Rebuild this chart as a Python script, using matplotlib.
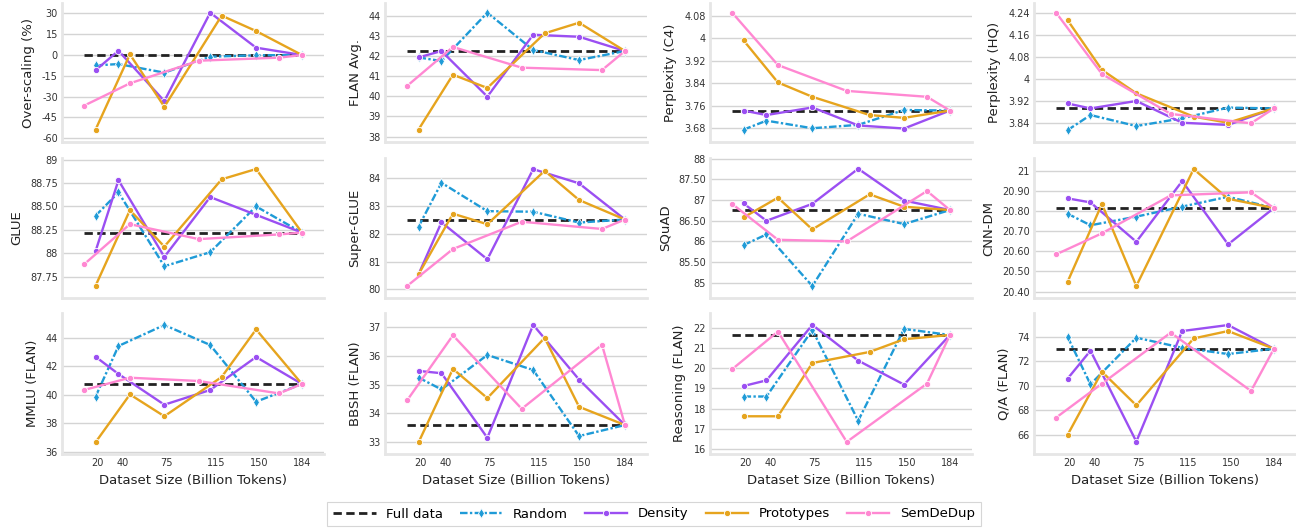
import matplotlib
matplotlib.use("Agg")
import matplotlib.pyplot as plt
from matplotlib.ticker import FuncFormatter
from matplotlib.lines import Line2D

# ---------------- data ----------------
X_TICKS = [20, 40, 75, 115, 150, 184]
X_TICK_LABELS = ["20", "40", "75", "115", "150", "184"]

FULL_X = [9.2, 184]
RANDOM_X = [18.4, 36.8, 73.6, 110.4, 147.2, 184]
DENSITY_X = [18.4, 36.8, 73.6, 110.4, 147.2, 184]
PROTO_X = [18.4, 46.0, 73.6, 119.6, 147.2, 184]
SEMDEDUP_X = [9.2, 46.0, 101.2, 165.6, 184]

METRICS = ["Over-scaling (%)", "FLAN Avg.", "Perplexity (C4)", "Perplexity (HQ)",
           "GLUE", "Super-GLUE", "SQuAD", "CNN-DM",
           "MMLU (FLAN)", "BBSH (FLAN)", "Reasoning (FLAN)", "Q/A (FLAN)"]

FULL = [0.0, 42.26, 3.743, 3.892,
        88.22, 82.51, 86.76, 20.816,
        40.76, 33.60, 21.65, 73.02]

RANDOM = [
    [-7.5, -6.5, -12.7, -1.2, -0.2, 0.0],
    [41.94, 41.76, 44.17, 42.31, 41.81, 42.26],
    [3.675, 3.707, 3.680, 3.692, 3.745, 3.743],
    [3.813, 3.868, 3.828, 3.856, 3.895, 3.892],
    [88.40, 88.65, 87.86, 88.01, 88.50, 88.22],
    [82.25, 83.83, 82.81, 82.79, 82.40, 82.51],
    [85.91, 86.17, 84.92, 86.67, 86.42, 86.76],
    [20.788, 20.730, 20.773, 20.823, 20.872, 20.816],
    [39.87, 43.42, 44.89, 43.49, 39.52, 40.76],
    [35.24, 34.83, 36.02, 35.50, 33.22, 33.60],
    [18.60, 18.60, 21.90, 17.40, 21.95, 21.65],
    [74.00, 70.12, 73.92, 73.10, 72.59, 73.02],
]

DENSITY = [
    [-11.0, 3.1, -33.2, 30.5, 5.3, 0.0],
    [41.94, 42.26, 39.99, 43.07, 42.97, 42.26],
    [3.743, 3.727, 3.754, 3.690, 3.679, 3.743],
    [3.910, 3.892, 3.919, 3.840, 3.832, 3.892],
    [88.02, 88.78, 87.96, 88.60, 88.41, 88.22],
    [80.54, 82.41, 81.08, 84.32, 83.81, 82.51],
    [86.92, 86.50, 86.91, 87.76, 86.99, 86.76],
    [20.864, 20.844, 20.648, 20.950, 20.635, 20.816],
    [42.67, 41.46, 39.31, 40.34, 42.65, 40.76],
    [35.47, 35.39, 33.16, 37.06, 35.17, 33.60],
    [19.12, 19.40, 22.15, 20.38, 19.19, 21.65],
    [70.58, 72.86, 65.46, 74.46, 74.95, 73.02],
]

PROTOTYPES = [
    [-53.8, 0.5, -37.3, 28.4, 17.3, 0.0],
    [38.35, 41.08, 40.42, 43.14, 43.67, 42.26],
    [3.993, 3.843, 3.792, 3.727, 3.717, 3.743],
    [4.213, 4.032, 3.947, 3.862, 3.840, 3.892],
    [87.65, 88.46, 88.07, 88.79, 88.90, 88.22],
    [80.54, 82.72, 82.34, 84.26, 83.21, 82.51],
    [86.58, 87.06, 86.29, 87.14, 86.84, 86.76],
    [20.448, 20.836, 20.428, 21.010, 20.862, 20.816],
    [36.68, 40.03, 38.50, 41.25, 44.58, 40.76],
    [33.00, 35.54, 34.53, 36.61, 34.23, 33.60],
    [17.62, 17.62, 20.26, 20.81, 21.44, 21.65],
    [66.00, 71.15, 68.41, 73.86, 74.46, 73.02],
]

SEMDEDUP = [
    [-36.5, -20.4, -4.1, -1.9, 0.0],
    [40.52, 42.46, 41.43, 41.31, 42.26],
    [4.092, 3.905, 3.813, 3.792, 3.743],
    [4.240, 4.017, 3.872, 3.838, 3.892],
    [87.88, 88.31, 88.15, 88.20, 88.22],
    [80.12, 81.45, 82.43, 82.17, 82.51],
    [86.91, 86.04, 86.00, 87.22, 86.76],
    [20.585, 20.690, 20.879, 20.894, 20.816],
    [40.34, 41.20, 40.97, 40.10, 40.76],
    [34.45, 36.70, 34.16, 36.37, 33.60],
    [19.95, 21.82, 16.35, 19.24, 21.65],
    [67.41, 70.18, 74.33, 69.58, 73.02],
]

Y_TICKS = [
    [-60, -45, -30, -15, 0, 15, 30],
    [38, 39, 40, 41, 42, 43, 44],
    [3.68, 3.76, 3.84, 3.92, 4.00, 4.08],
    [3.84, 3.92, 4.00, 4.08, 4.16, 4.24],
    [87.75, 88.0, 88.25, 88.5, 88.75, 89.0],
    [80, 81, 82, 83, 84],
    [85.0, 85.5, 86.0, 86.5, 87.0, 87.5, 88.0],
    [20.4, 20.5, 20.6, 20.7, 20.8, 20.9, 21.0],
    [36, 38, 40, 42, 44],
    [33, 34, 35, 36, 37],
    [16, 17, 18, 19, 20, 21, 22],
    [66, 68, 70, 72, 74],
]

Y_LIMS = [
    (-62.7, 37.5), (37.73, 44.65), (3.631, 4.126), (3.770, 4.275),
    (87.52, 89.018), (79.69, 84.72), (84.63, 88.02), (20.368, 21.065),
    (35.86, 45.73), (32.60, 37.47), (15.75, 22.74), (64.45, 75.93),
]

LEGEND_LABELS = ["Full data", "Random", "Density", "Prototypes", "SemDeDup"]

# ---------------- style ----------------
C_FULL = "#222222"
C_RANDOM = "#1f9bd7"
C_DENSITY = "#9b4ff2"
C_PROTO = "#e6a41e"
C_SEM = "#ff88d2"

W, H = 1296, 529
COL_LEFT = [62, 385, 710, 1034]
COL_W = 262
ROW_TOP = [3, 158, 313]
ROW_BOT = [142, 298, 454]

plt.rcParams["font.family"] = ["DejaVu Sans"]
fig = plt.figure(figsize=(W / 100, H / 100), dpi=100)


def fmt(v, pos):
    if abs(v - round(v)) < 1e-9:
        return str(int(round(v)))
    return f"{v:.2f}"


random_dash = (3.2, 1.0, 1.0, 1.0)
full_dash = (3.0, 1.6)
lw = 1.7

for i in range(12):
    r, c = divmod(i, 4)
    l = COL_LEFT[c]
    t = ROW_TOP[r]
    b = ROW_BOT[r]
    ax = fig.add_axes([l / W, 1 - b / H, COL_W / W, (b - t) / H])
    ax.set_facecolor("white")
    ax.grid(axis="y", color="#d4d4d4", linewidth=1.0)
    ax.grid(axis="x", visible=False)
    ax.set_axisbelow(True)
    for s in ["top", "right"]:
        ax.spines[s].set_visible(False)
    for s in ["left", "bottom"]:
        ax.spines[s].set_color("#e6e6e6")
        ax.spines[s].set_linewidth(2.0)

    ax.plot(FULL_X, [FULL[i]] * len(FULL_X), color=C_FULL, lw=2.0,
            dashes=full_dash, zorder=3)
    ax.plot(RANDOM_X, RANDOM[i], color=C_RANDOM, lw=lw, dashes=random_dash,
            marker="d", markersize=5, markeredgecolor="white",
            markeredgewidth=0.6, zorder=4)
    ax.plot(DENSITY_X, DENSITY[i], color=C_DENSITY, lw=lw, marker="o",
            markersize=4.5, markeredgecolor="white", markeredgewidth=0.6,
            zorder=4)
    ax.plot(PROTO_X, PROTOTYPES[i], color=C_PROTO, lw=lw, marker="o",
            markersize=4.5, markeredgecolor="white", markeredgewidth=0.6,
            zorder=4)
    ax.plot(SEMDEDUP_X, SEMDEDUP[i], color=C_SEM, lw=lw, marker="o",
            markersize=4.5, markeredgecolor="white", markeredgewidth=0.6,
            zorder=4)

    ax.set_xlim(-8.5, 201.7)
    ax.set_ylim(*Y_LIMS[i])
    ax.set_yticks(Y_TICKS[i])
    ax.yaxis.set_major_formatter(FuncFormatter(fmt))
    ax.set_xticks(X_TICKS)
    ax.tick_params(axis="both", length=0, labelsize=7, colors="#333333",
                   pad=3)
    ax.set_ylabel(METRICS[i], fontsize=9.5, color="#222222", labelpad=5)
    if r == 2:
        ax.set_xticklabels(X_TICK_LABELS)
        ax.set_xlabel("Dataset Size (Billion Tokens)", fontsize=9.5,
                      color="#222222", labelpad=4)
    else:
        ax.set_xticklabels([])

handles = [
    Line2D([], [], color=C_FULL, lw=2.0, dashes=full_dash),
    Line2D([], [], color=C_RANDOM, lw=lw, dashes=random_dash, marker="d",
           markersize=5, markeredgecolor="white", markeredgewidth=0.6),
    Line2D([], [], color=C_DENSITY, lw=lw, marker="o", markersize=4.5,
           markeredgecolor="white", markeredgewidth=0.6),
    Line2D([], [], color=C_PROTO, lw=lw, marker="o", markersize=4.5,
           markeredgecolor="white", markeredgewidth=0.6),
    Line2D([], [], color=C_SEM, lw=lw, marker="o", markersize=4.5,
           markeredgecolor="white", markeredgewidth=0.6),
]
leg = fig.legend(handles, LEGEND_LABELS, loc="center",
                 bbox_to_anchor=(654 / W, 1 - 514 / H), ncol=5,
                 fontsize=9.5, frameon=True, handlelength=3.2,
                 columnspacing=1.3, borderpad=0.45, handletextpad=0.8)
leg.get_frame().set_edgecolor("#cccccc")
leg.get_frame().set_linewidth(0.8)
leg.get_frame().set_boxstyle("square", pad=0)

fig.savefig("out.png", dpi=100)
